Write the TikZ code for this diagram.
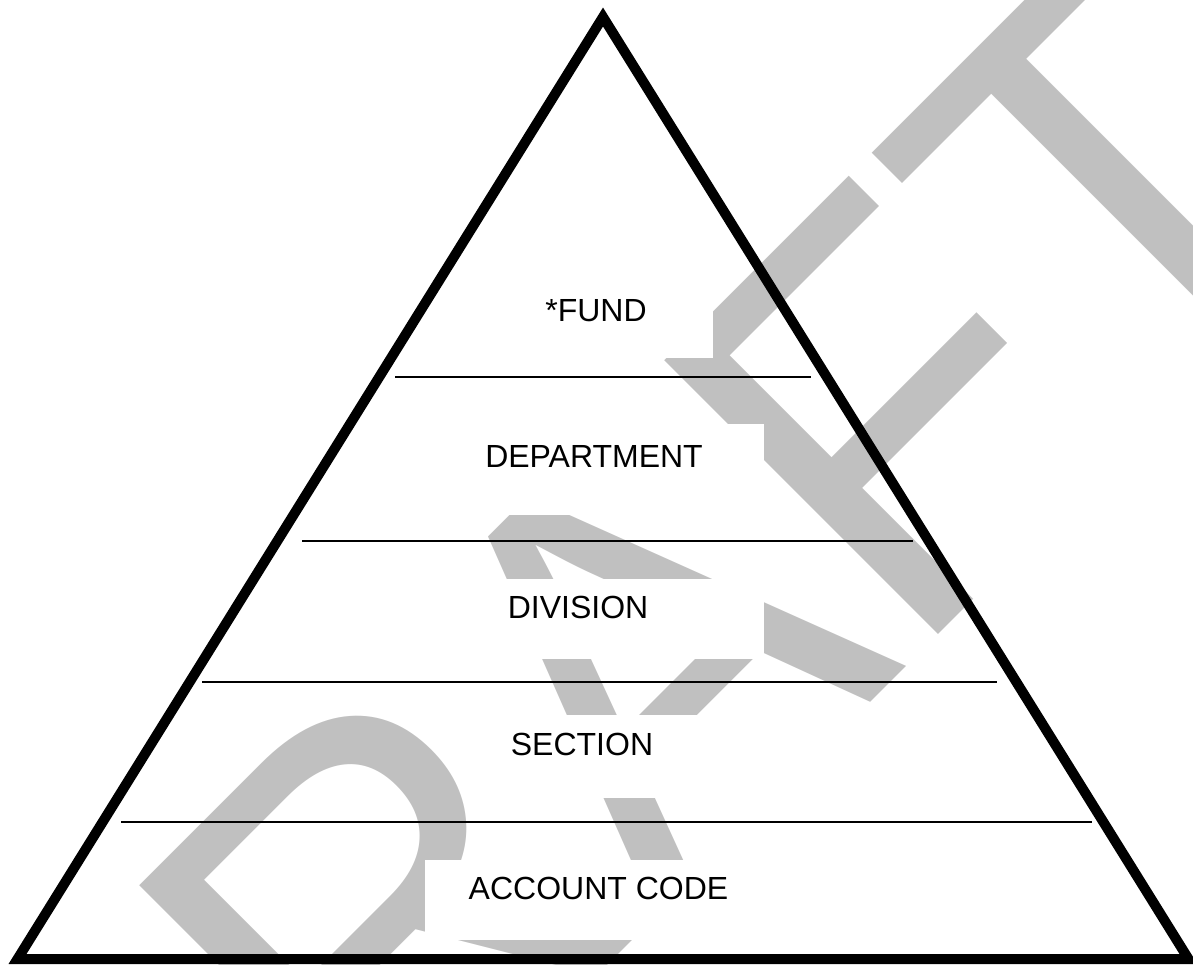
\documentclass[tikz,border=0pt]{standalone}
\usepackage{graphicx}
\usepackage{fontspec}
\setmainfont{Liberation Sans}
\definecolor{wmgray}{HTML}{C0C0C0}
\tikzset{
  wmark/.style={anchor=base west, rotate=45, inner sep=0pt, outer sep=0pt, text=wmgray,
    font=\fontsize{534}{534}\selectfont},
  lbl/.style={anchor=base, inner sep=0pt, font=\fontsize{32}{38}\selectfont},
  tier/.style={line width=2pt},
  pyr/.style={line width=10pt, line join=miter},
  cover/.style={fill=white}
}
\begin{document}
\begin{tikzpicture}[x=1pt,y=-1pt]
\useasboundingbox (0,0) rectangle (1193,964);
\begin{scope}
  \clip (0,0) rectangle (1193,964);
  \node[wmark] (wm) at (110,1463) {\scalebox{1}[1.054]{DRAFT}};
\end{scope}
% white text frames covering the watermark
\fill[cover] (480,270) rectangle (713,358);
\fill[cover] (420,424) rectangle (764,515);
\fill[cover] (392,579) rectangle (764,659);
\fill[cover] (467,715) rectangle (697,798);
\fill[cover] (425,860) rectangle (772,940);
% tier lines
\coordinate (l1a) at (395,377); \coordinate (l1b) at (811,377);
\coordinate (l2a) at (302,541); \coordinate (l2b) at (913,541);
\coordinate (l3a) at (202,682); \coordinate (l3b) at (997,682);
\coordinate (l4a) at (121,822); \coordinate (l4b) at (1092,822);
\draw[tier] (l1a) -- (l1b);
\draw[tier] (l2a) -- (l2b);
\draw[tier] (l3a) -- (l3b);
\draw[tier] (l4a) -- (l4b);
% pyramid
\coordinate (apex) at (603,17);
\coordinate (br) at (1188.5,959);
\coordinate (bl) at (17.5,959);
\draw[pyr] (apex) -- (br) -- (bl) -- cycle;
% labels
\node[lbl] (fund) at (596,321) {*FUND};
\node[lbl] (dept) at (594,467) {DEPARTMENT};
\node[lbl] (div) at (578,618) {DIVISION};
\node[lbl] (sect) at (582,755) {SECTION};
\node[lbl] (acct) at (598.5,899) {ACCOUNT CODE};
\end{tikzpicture}
\end{document}
